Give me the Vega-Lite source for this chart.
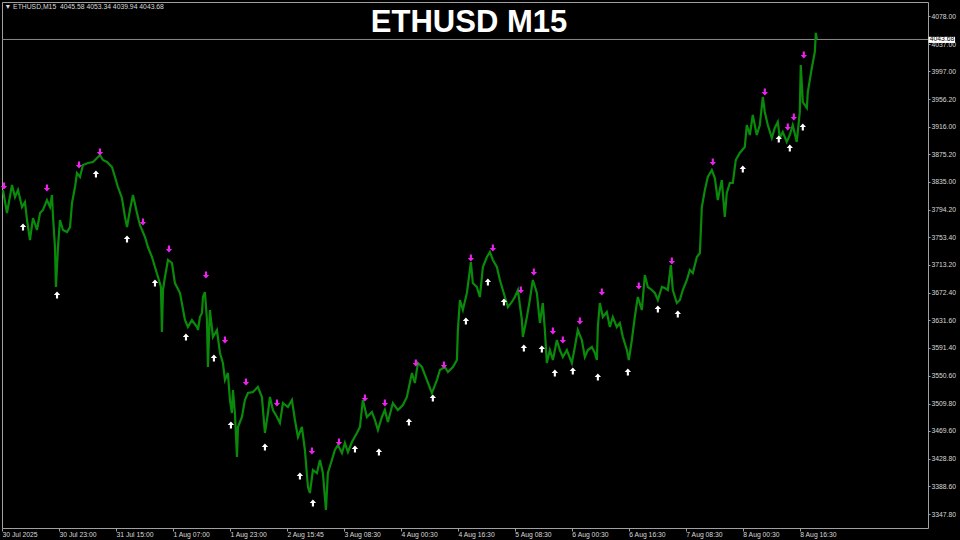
{
  "$schema": "https://vega.github.io/schema/vega-lite/v6.json",
  "width": 926,
  "height": 526,
  "autosize": {"type": "none"},
  "padding": {"left": 2, "top": 2, "right": 32, "bottom": 12},
  "background": "#000000",
  "title": {"text": "ETHUSD M15", "color": "#ffffff", "font": "Liberation Sans", "fontSize": 31, "fontWeight": "bold", "anchor": "middle", "frame": "group", "orient": "top", "offset": -31, "baseline": "alphabetic", "dx": 4, "dy": 30},
  "config": {
    "view": {"stroke": "#a0a0a0", "strokeWidth": 1},
    "axis": {"grid": false, "domain": false, "labelOverlap": false, "labelFlush": false, "labelBound": false}
  },
  "datasets": {
    "price": [
      {"b":1.1,"p":3822.9},{"b":5.6,"p":3789.2},{"b":11.2,"p":3830.2},{"b":14.6,"p":3812.6},{"b":18.0,"p":3822.9},{"b":22.5,"p":3798.0},{"b":25.8,"p":3805.3},{"b":28.1,"p":3778.9},{"b":31.4,"p":3749.6},{"b":34.8,"p":3781.8},{"b":39.3,"p":3764.3},{"b":42.7,"p":3789.2},{"b":46.0,"p":3793.6},{"b":50.5,"p":3808.2},{"b":53.9,"p":3798.0},{"b":56.1,"p":3815.6},{"b":57.3,"p":3783.3},{"b":59.5,"p":3739.3},{"b":60.6,"p":3680.7},{"b":62.9,"p":3739.3},{"b":65.1,"p":3778.9},{"b":68.5,"p":3764.3},{"b":73.0,"p":3761.3},{"b":76.4,"p":3768.6},{"b":78.6,"p":3803.8},{"b":82.0,"p":3827.3},{"b":84.2,"p":3847.8},{"b":87.6,"p":3842.0},{"b":90.9,"p":3859.6},{"b":96.6,"p":3862.5},{"b":102.2,"p":3864.0},{"b":106.7,"p":3869.8},{"b":110.0,"p":3874.2},{"b":113.4,"p":3866.9},{"b":117.9,"p":3864.0},{"b":123.5,"p":3856.6},{"b":126.9,"p":3842.0},{"b":130.2,"p":3827.3},{"b":134.7,"p":3811.2},{"b":138.1,"p":3783.3},{"b":140.4,"p":3768.6},{"b":143.7,"p":3793.6},{"b":147.1,"p":3815.6},{"b":151.6,"p":3789.2},{"b":154.9,"p":3771.6},{"b":160.6,"p":3754.0},{"b":163.9,"p":3739.3},{"b":168.4,"p":3724.7},{"b":171.8,"p":3710.0},{"b":175.2,"p":3695.3},{"b":178.5,"p":3680.7},{"b":179.6,"p":3614.7},{"b":180.8,"p":3676.3},{"b":183.0,"p":3695.3},{"b":186.4,"p":3720.3},{"b":190.9,"p":3715.9},{"b":194.2,"p":3686.5},{"b":199.9,"p":3671.9},{"b":205.5,"p":3632.3},{"b":208.8,"p":3622.0},{"b":213.3,"p":3632.3},{"b":219.0,"p":3622.0},{"b":220.1,"p":3617.6},{"b":222.3,"p":3636.7},{"b":224.6,"p":3642.5},{"b":225.7,"p":3666.0},{"b":227.9,"p":3673.3},{"b":230.2,"p":3632.3},{"b":231.3,"p":3563.4},{"b":233.5,"p":3646.9},{"b":236.9,"p":3607.4},{"b":241.4,"p":3617.6},{"b":244.8,"p":3583.9},{"b":248.1,"p":3569.2},{"b":250.4,"p":3544.3},{"b":253.7,"p":3554.6},{"b":256.0,"p":3515.0},{"b":258.2,"p":3495.9},{"b":259.4,"p":3529.6},{"b":261.6,"p":3495.9},{"b":263.9,"p":3431.4},{"b":265.0,"p":3475.4},{"b":269.5,"p":3490.1},{"b":272.8,"p":3515.0},{"b":276.2,"p":3525.2},{"b":281.8,"p":3526.7},{"b":287.4,"p":3534.0},{"b":291.9,"p":3519.4},{"b":295.3,"p":3466.6},{"b":298.7,"p":3495.9},{"b":300.9,"p":3519.4},{"b":304.3,"p":3500.3},{"b":308.8,"p":3490.1},{"b":312.1,"p":3481.3},{"b":315.5,"p":3510.6},{"b":321.1,"p":3504.7},{"b":325.6,"p":3515.0},{"b":329.0,"p":3485.7},{"b":332.4,"p":3460.7},{"b":336.8,"p":3475.4},{"b":340.2,"p":3441.7},{"b":343.6,"p":3387.4},{"b":345.8,"p":3378.6},{"b":349.2,"p":3412.3},{"b":353.7,"p":3407.9},{"b":357.1,"p":3427.0},{"b":360.4,"p":3407.9},{"b":363.8,"p":3353.7},{"b":366.0,"p":3407.9},{"b":370.5,"p":3427.0},{"b":373.9,"p":3441.7},{"b":377.3,"p":3449.0},{"b":381.8,"p":3437.3},{"b":385.1,"p":3451.9},{"b":388.5,"p":3438.7},{"b":393.0,"p":3453.4},{"b":398.6,"p":3466.6},{"b":402.0,"p":3475.4},{"b":405.3,"p":3515.0},{"b":409.8,"p":3490.1},{"b":415.4,"p":3497.4},{"b":418.8,"p":3485.7},{"b":422.2,"p":3471.0},{"b":426.7,"p":3490.1},{"b":430.0,"p":3500.3},{"b":433.4,"p":3482.7},{"b":439.0,"p":3510.6},{"b":444.6,"p":3500.3},{"b":450.3,"p":3507.6},{"b":454.7,"p":3519.4},{"b":460.4,"p":3554.6},{"b":463.7,"p":3539.9},{"b":467.1,"p":3569.2},{"b":471.6,"p":3563.4},{"b":477.2,"p":3544.3},{"b":482.8,"p":3525.2},{"b":488.5,"p":3544.3},{"b":491.8,"p":3559.0},{"b":497.4,"p":3563.4},{"b":500.8,"p":3556.0},{"b":506.4,"p":3563.4},{"b":510.9,"p":3573.6},{"b":512.0,"p":3617.6},{"b":514.3,"p":3661.6},{"b":517.6,"p":3646.9},{"b":522.1,"p":3671.9},{"b":525.5,"p":3705.6},{"b":526.6,"p":3717.3},{"b":528.8,"p":3686.5},{"b":533.3,"p":3680.7},{"b":536.7,"p":3666.0},{"b":540.1,"p":3710.0},{"b":544.6,"p":3724.7},{"b":548.0,"p":3732.0},{"b":551.3,"p":3720.3},{"b":555.8,"p":3710.0},{"b":559.2,"p":3690.9},{"b":562.5,"p":3676.3},{"b":564.8,"p":3666.0},{"b":568.2,"p":3651.3},{"b":572.6,"p":3658.7},{"b":576.0,"p":3666.0},{"b":579.4,"p":3676.3},{"b":583.9,"p":3632.3},{"b":585.0,"p":3607.4},{"b":589.5,"p":3636.7},{"b":592.8,"p":3661.6},{"b":596.2,"p":3690.9},{"b":600.7,"p":3671.9},{"b":604.1,"p":3627.9},{"b":607.4,"p":3657.2},{"b":609.7,"p":3617.6},{"b":611.9,"p":3569.2},{"b":615.3,"p":3588.3},{"b":618.7,"p":3573.6},{"b":623.2,"p":3603.0},{"b":626.5,"p":3588.3},{"b":629.9,"p":3578.0},{"b":634.4,"p":3588.3},{"b":640.0,"p":3569.2},{"b":643.4,"p":3592.7},{"b":646.7,"p":3617.6},{"b":651.2,"p":3603.0},{"b":654.6,"p":3578.0},{"b":658.0,"p":3588.3},{"b":662.5,"p":3592.7},{"b":665.8,"p":3583.9},{"b":668.1,"p":3573.6},{"b":669.2,"p":3622.0},{"b":671.4,"p":3657.2},{"b":674.8,"p":3636.7},{"b":679.3,"p":3644.0},{"b":682.7,"p":3622.0},{"b":686.0,"p":3636.7},{"b":690.5,"p":3622.0},{"b":693.9,"p":3627.9},{"b":697.3,"p":3607.4},{"b":701.8,"p":3588.3},{"b":704.0,"p":3573.6},{"b":707.4,"p":3603.0},{"b":710.7,"p":3636.7},{"b":714.1,"p":3666.0},{"b":718.6,"p":3646.9},{"b":722.0,"p":3698.3},{"b":725.3,"p":3680.7},{"b":729.8,"p":3676.3},{"b":733.2,"p":3671.9},{"b":736.6,"p":3661.6},{"b":741.1,"p":3680.7},{"b":744.4,"p":3679.2},{"b":747.8,"p":3676.3},{"b":751.2,"p":3712.9},{"b":753.4,"p":3676.3},{"b":757.9,"p":3657.2},{"b":761.3,"p":3661.6},{"b":764.6,"p":3676.3},{"b":769.1,"p":3690.9},{"b":772.5,"p":3705.6},{"b":775.9,"p":3701.2},{"b":780.4,"p":3724.7},{"b":783.8,"p":3730.5},{"b":786.0,"p":3798.0},{"b":789.4,"p":3822.9},{"b":792.7,"p":3842.0},{"b":797.2,"p":3852.2},{"b":800.6,"p":3840.5},{"b":803.9,"p":3808.2},{"b":808.4,"p":3837.6},{"b":811.8,"p":3783.3},{"b":814.0,"p":3818.5},{"b":817.4,"p":3833.2},{"b":820.8,"p":3833.2},{"b":824.1,"p":3866.9},{"b":828.6,"p":3877.2},{"b":834.2,"p":3886.0},{"b":836.5,"p":3918.2},{"b":839.9,"p":3903.6},{"b":843.2,"p":3932.9},{"b":847.7,"p":3903.6},{"b":851.1,"p":3918.2},{"b":854.5,"p":3959.3},{"b":856.7,"p":3937.3},{"b":860.1,"p":3918.2},{"b":864.6,"p":3899.2},{"b":867.9,"p":3913.8},{"b":871.3,"p":3922.6},{"b":873.6,"p":3899.2},{"b":876.9,"p":3907.9},{"b":881.4,"p":3893.3},{"b":884.8,"p":3903.6},{"b":888.1,"p":3918.2},{"b":892.6,"p":3893.3},{"b":896.0,"p":3937.3},{"b":897.1,"p":4006.2},{"b":899.4,"p":3951.9},{"b":903.9,"p":3943.1},{"b":905.0,"p":3966.6},{"b":909.5,"p":4001.8},{"b":912.9,"p":4025.3},{"b":914.0,"p":4053.3},{"b":915.2,"p":4043.7}
    ],
    "signals": [
      {"b":2.2,"p":3828.8,"s":"sell"},{"b":50.5,"p":3825.8,"s":"sell"},{"b":86.5,"p":3859.6,"s":"sell"},{"b":110.0,"p":3878.6,"s":"sell"},{"b":158.3,"p":3776.0,"s":"sell"},{"b":187.5,"p":3736.4,"s":"sell"},{"b":229.1,"p":3698.3,"s":"sell"},{"b":250.4,"p":3603.0,"s":"sell"},{"b":274.0,"p":3541.4,"s":"sell"},{"b":308.8,"p":3510.6,"s":"sell"},{"b":348.1,"p":3440.2,"s":"sell"},{"b":378.4,"p":3453.4,"s":"sell"},{"b":407.6,"p":3517.9,"s":"sell"},{"b":430.0,"p":3510.6,"s":"sell"},{"b":464.8,"p":3569.2,"s":"sell"},{"b":496.3,"p":3566.3,"s":"sell"},{"b":526.6,"p":3723.2,"s":"sell"},{"b":551.3,"p":3737.9,"s":"sell"},{"b":582.7,"p":3676.3,"s":"sell"},{"b":597.3,"p":3702.7,"s":"sell"},{"b":618.7,"p":3616.2,"s":"sell"},{"b":629.9,"p":3603.0,"s":"sell"},{"b":649.0,"p":3630.8,"s":"sell"},{"b":673.7,"p":3673.3,"s":"sell"},{"b":715.2,"p":3682.1,"s":"sell"},{"b":752.3,"p":3718.8,"s":"sell"},{"b":798.3,"p":3864.0,"s":"sell"},{"b":856.7,"p":3966.6,"s":"sell"},{"b":882.5,"p":3915.3,"s":"sell"},{"b":889.3,"p":3929.9,"s":"sell"},{"b":900.5,"p":4020.9,"s":"sell"},
      {"b":23.6,"p":3768.6,"s":"buy"},{"b":61.8,"p":3668.9,"s":"buy"},{"b":105.5,"p":3846.4,"s":"buy"},{"b":140.4,"p":3751.1,"s":"buy"},{"b":171.8,"p":3686.5,"s":"buy"},{"b":206.6,"p":3607.4,"s":"buy"},{"b":238.0,"p":3576.6,"s":"buy"},{"b":257.1,"p":3478.3,"s":"buy"},{"b":295.3,"p":3446.1,"s":"buy"},{"b":334.6,"p":3403.5,"s":"buy"},{"b":349.2,"p":3364.0,"s":"buy"},{"b":396.4,"p":3443.1,"s":"buy"},{"b":423.3,"p":3438.7,"s":"buy"},{"b":457.0,"p":3482.7,"s":"buy"},{"b":483.9,"p":3517.9,"s":"buy"},{"b":521.0,"p":3630.8,"s":"buy"},{"b":545.7,"p":3688.0,"s":"buy"},{"b":563.7,"p":3658.7,"s":"buy"},{"b":586.1,"p":3591.2,"s":"buy"},{"b":606.3,"p":3589.8,"s":"buy"},{"b":620.9,"p":3554.6,"s":"buy"},{"b":641.1,"p":3557.5,"s":"buy"},{"b":669.2,"p":3548.7,"s":"buy"},{"b":702.9,"p":3556.0,"s":"buy"},{"b":736.6,"p":3648.4,"s":"buy"},{"b":759.0,"p":3641.1,"s":"buy"},{"b":832.0,"p":3853.7,"s":"buy"},{"b":872.4,"p":3897.7,"s":"buy"},{"b":884.8,"p":3884.5,"s":"buy"},{"b":899.4,"p":3915.3,"s":"buy"}
    ],
    "last": [{"p": 4043.68, "label": "4043.68"}]
  },
  "layer": [
    {
      "data": {"name": "last"},
      "mark": {"type": "rule", "color": "#8a8a8a", "strokeWidth": 1},
      "encoding": {
        "y": {"field": "p", "type": "quantitative", "scale": {"domain": [3327.3, 4098.6], "nice": false, "zero": false},
          "axis": {"orient": "right", "values": [4078.0,4037.0,3997.0,3956.2,3916.0,3875.2,3835.0,3794.2,3753.4,3713.2,3672.4,3631.6,3591.4,3550.6,3509.8,3469.6,3428.8,3388.6,3347.8],
            "tickCount": 40, "format": ".2f", "domain": false, "grid": false, "tickSize": 2, "tickColor": "#a0a0a0",
            "labelColor": "#d8d8d8", "labelFont": "Liberation Sans", "labelFontSize": 6.8, "labelPadding": 1,
            "labelAlign": "left", "labelBaseline": "middle", "labelOverlap": false, "labelFlush": false, "labelBound": false,
            "title": "▼ ETHUSD,M15\u00a0\u00a04045.58 4053.34 4039.94 4043.68", "titleAngle": 0, "titleAlign": "left", "titleBaseline": "middle",
            "titleX": -924, "titleY": 4.5, "titleColor": "#d8d8d8", "titleFont": "Liberation Sans", "titleFontSize": 6.8, "titleFontWeight": "normal"}}
      }
    },
    {
      "data": {"name": "price"},
      "mark": {"type": "line", "color": "#0a8a0a", "strokeWidth": 2.2, "clip": true},
      "encoding": {
        "x": {"field": "b", "type": "quantitative", "scale": {"domain": [0, 1040], "nice": false, "zero": false},
          "axis": {"orient": "bottom", "values": [0,64,128,192,256,320,384,448,512,576,640,704,768,832,896], "tickCount": 40,
            "labelExpr": "['30 Jul 2025','30 Jul 23:00','31 Jul 15:00','1 Aug 07:00','1 Aug 23:00','2 Aug 15:45','3 Aug 08:30','4 Aug 00:30','4 Aug 16:30','5 Aug 08:30','6 Aug 00:30','6 Aug 16:30','7 Aug 08:30','8 Aug 00:30','8 Aug 16:30'][round(datum.value/64)]",
            "domain": false, "grid": false, "ticks": true, "tickSize": 3, "tickColor": "#a0a0a0",
            "labelColor": "#d8d8d8", "labelFont": "Liberation Sans", "labelFontSize": 6.8,
            "labelAlign": "left", "labelBaseline": "top", "labelPadding": 0, "labelFlush": false, "labelOverlap": false, "labelBound": false, "title": null}},
        "y": {"field": "p", "type": "quantitative", "scale": {"domain": [3327.3, 4098.6], "nice": false, "zero": false}}
      }
    },
    {
      "data": {"name": "signals"},
      "mark": {"type": "point", "filled": true, "size": 50, "opacity": 1, "strokeWidth": 0},
      "encoding": {
        "x": {"field": "b", "type": "quantitative", "scale": {"domain": [0, 1040], "nice": false, "zero": false}},
        "y": {"field": "p", "type": "quantitative", "scale": {"domain": [3327.3, 4098.6], "nice": false, "zero": false}},
        "color": {"field": "s", "type": "nominal", "scale": {"domain": ["sell", "buy"], "range": ["#ee22ee", "#ffffff"]}, "legend": null},
        "shape": {"field": "s", "type": "nominal", "scale": {"domain": ["sell", "buy"], "range": ["M-0.3,-1L0.3,-1L0.3,0L0.9,0L0,1L-0.9,0L-0.3,0Z", "M-0.3,1L0.3,1L0.3,0L0.9,0L0,-1L-0.9,0L-0.3,0Z"]}, "legend": null}
      }
    },
    {
      "data": {"name": "last"},
      "mark": {"type": "rect", "color": "#ffffff", "clip": false},
      "encoding": {
        "x": {"datum": 1040.6, "type": "quantitative", "scale": {"domain": [0, 1040], "nice": false, "zero": false}},
        "x2": {"datum": 1070.4},
        "y": {"datum": 4047.6, "type": "quantitative", "scale": {"domain": [3327.3, 4098.6], "nice": false, "zero": false}},
        "y2": {"datum": 4038.6}
      }
    },
    {
      "data": {"name": "last"},
      "mark": {"type": "text", "color": "#000000", "font": "Liberation Sans", "fontSize": 6.8, "align": "left", "baseline": "middle", "clip": false},
      "encoding": {
        "x": {"datum": 1042, "type": "quantitative", "scale": {"domain": [0, 1040], "nice": false, "zero": false}},
        "y": {"field": "p", "type": "quantitative", "scale": {"domain": [3327.3, 4098.6], "nice": false, "zero": false}},
        "text": {"field": "label"}
      }
    }
  ]
}
